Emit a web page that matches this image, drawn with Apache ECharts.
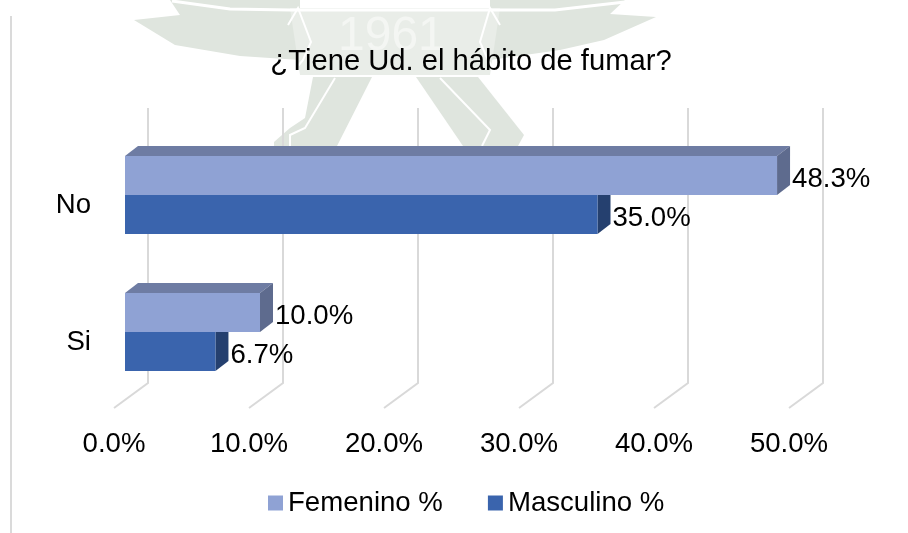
<!DOCTYPE html>
<html><head><meta charset="utf-8">
<style>html,body{margin:0;padding:0;background:#fff}#c{width:908px;height:533px}</style>
<script src="https://cdn.jsdelivr.net/npm/echarts@6/dist/echarts.min.js"></script>
</head><body><div id="c"></div>
<script>
const titleText = '¿Tiene Ud. el hábito de fumar?';
const categories = ['No', 'Si'];
const femenino = [48.3, 10.0];
const masculino = [35.0, 6.7];
const xTicks = [0, 10, 20, 30, 40, 50];
const FONT = '"Liberation Sans", Arial, sans-serif';
const FS = 27.6;
const wm = '#DFE5DE';
const wmPale = '#E9EDE8';

const chart = echarts.init(document.getElementById('c'), null, {renderer: 'canvas'});

function bar3d(slot, colors) {
  return function (params, api) {
    const cs = params.coordSys;
    const c = api.coord([api.value(0), api.value(1)]);
    const x0 = cs.x + 11;
    const h = 39;
    const cy = c[1] - 10;
    const yTop = cy + (slot === 0 ? -h : 0);
    const x1 = c[0] + 11;
    const dx = 13, dy = 10;
    const kids = [];
    if (slot === 0) {
      kids.push({type: 'polygon', shape: {points: [[x0, yTop], [x1, yTop], [x1 + dx, yTop - dy], [x0 + dx, yTop - dy]]}, style: {fill: colors[1]}});
    }
    kids.push({type: 'polygon', shape: {points: [[x1, yTop], [x1 + dx, yTop - dy], [x1 + dx, yTop + h - dy], [x1, yTop + h]]}, style: {fill: colors[2]}});
    kids.push({type: 'rect', shape: {x: x0, y: yTop, width: x1 - x0, height: h}, style: {fill: colors[0]}});
    kids.push({type: 'text', x: x1 + dx + 2, y: yTop + h / 2 + 4, style: {text: api.value(0).toFixed(1) + '%', font: FS + 'px ' + FONT, fill: '#000', verticalAlign: 'middle', align: 'left'}, z2: 10});
    return {type: 'group', children: kids};
  };
}

function wallRender(params, api) {
  const cs = params.coordSys;
  const p = api.coord([api.value(0), 0]);
  const x = p[0], yb = cs.y + cs.height - 2.5;
  return {type: 'polyline', shape: {points: [[x, yb], [x + 34, yb - 25], [x + 34, yb - 300]]},
    style: {stroke: '#D9D9D9', lineWidth: 2, fill: null}, z2: 0};
}

const poly = (points, fill) => ({type: 'polygon', silent: true, z: -3, shape: {points}, style: {fill}});
const wline = (points, w) => ({type: 'polyline', silent: true, z: -2, shape: {points}, style: {stroke: '#fff', lineWidth: w, fill: null}});

chart.setOption({
  animation: false,
  backgroundColor: '#fff',
  title: {text: titleText, left: 466, top: 42, textAlign: 'center',
    textStyle: {fontFamily: FONT, fontSize: 29.2, fontWeight: 'normal', color: '#000'}},
  legend: {
    data: ['Femenino %', 'Masculino %'], left: 263, top: 484, itemWidth: 15, itemHeight: 15, itemGap: 45,
    icon: 'rect', textStyle: {fontFamily: FONT, fontSize: FS, color: '#000'}
  },
  grid: {left: 114, right: 119, top: 136.5, bottom: 122.5, containLabel: false},
  xAxis: {type: 'value', min: 0, max: 50, interval: 10, position: 'bottom',
    axisLine: {show: false}, axisTick: {show: false}, splitLine: {show: false},
    axisLabel: {fontFamily: FONT, fontSize: FS, color: '#000', margin: 20, formatter: v => v.toFixed(1) + '%'}},
  yAxis: {type: 'category', data: categories, inverse: true,
    axisLine: {show: false}, axisTick: {show: false}, splitLine: {show: false},
    axisLabel: {fontFamily: FONT, fontSize: FS, color: '#000', margin: 23}},
  graphic: [
    {type: 'line', silent: true, z: -1, shape: {x1: 11, y1: 16, x2: 11, y2: 533}, style: {stroke: '#DADADA', lineWidth: 2}},
    poly([[134,20],[180,15],[170,0],[300,0],[300,60],[240,56],[175,45]], wm),
    poly([[656,17],[610,14],[625,0],[490,0],[490,60],[560,50],[604,40]], wm),
    poly([[290,8],[500,8],[490,75],[300,75]], wmPale),
    poly([[313,77],[372,77],[337,146],[274,146],[274,142],[290,128],[305,118]], wm),
    poly([[416,77],[478,77],[524,135],[518,146],[463,146]], wm),
    wline([[172,1],[230,9],[290,10],[555,10],[625,2]], 3),
    wline([[288,25],[298,8],[311,42],[303,60],[298,66]], 2),
    wline([[500,25],[490,8],[480,42],[488,60],[492,66]], 2),
    wline([[335,78],[305,128],[290,135],[290,146]], 2),
    wline([[440,78],[490,130],[482,146]], 2),
    {type: 'text', silent: true, z: -2, style: {x: 338, y: 13, text: '1961', font: '48px ' + FONT, fill: '#F4F6F3'}}
  ],
  series: [
    {type: 'custom', name: 'grid', silent: true, z: 1, encode: {x: 0}, data: xTicks.map(v => [v]), renderItem: wallRender},
    {type: 'custom', name: 'Femenino %', z: 3, itemStyle: {color: '#8FA2D4'}, encode: {x: 0, y: 1},
      data: femenino.map((v, i) => [v, i]), renderItem: bar3d(0, ['#8FA2D4', '#6E7CA3', '#5E6B8E'])},
    {type: 'custom', name: 'Masculino %', z: 2, itemStyle: {color: '#3A64AD'}, encode: {x: 0, y: 1},
      data: masculino.map((v, i) => [v, i]), renderItem: bar3d(1, ['#3A64AD', '#2C4B82', '#25406F'])}
  ]
});
</script></body></html>
